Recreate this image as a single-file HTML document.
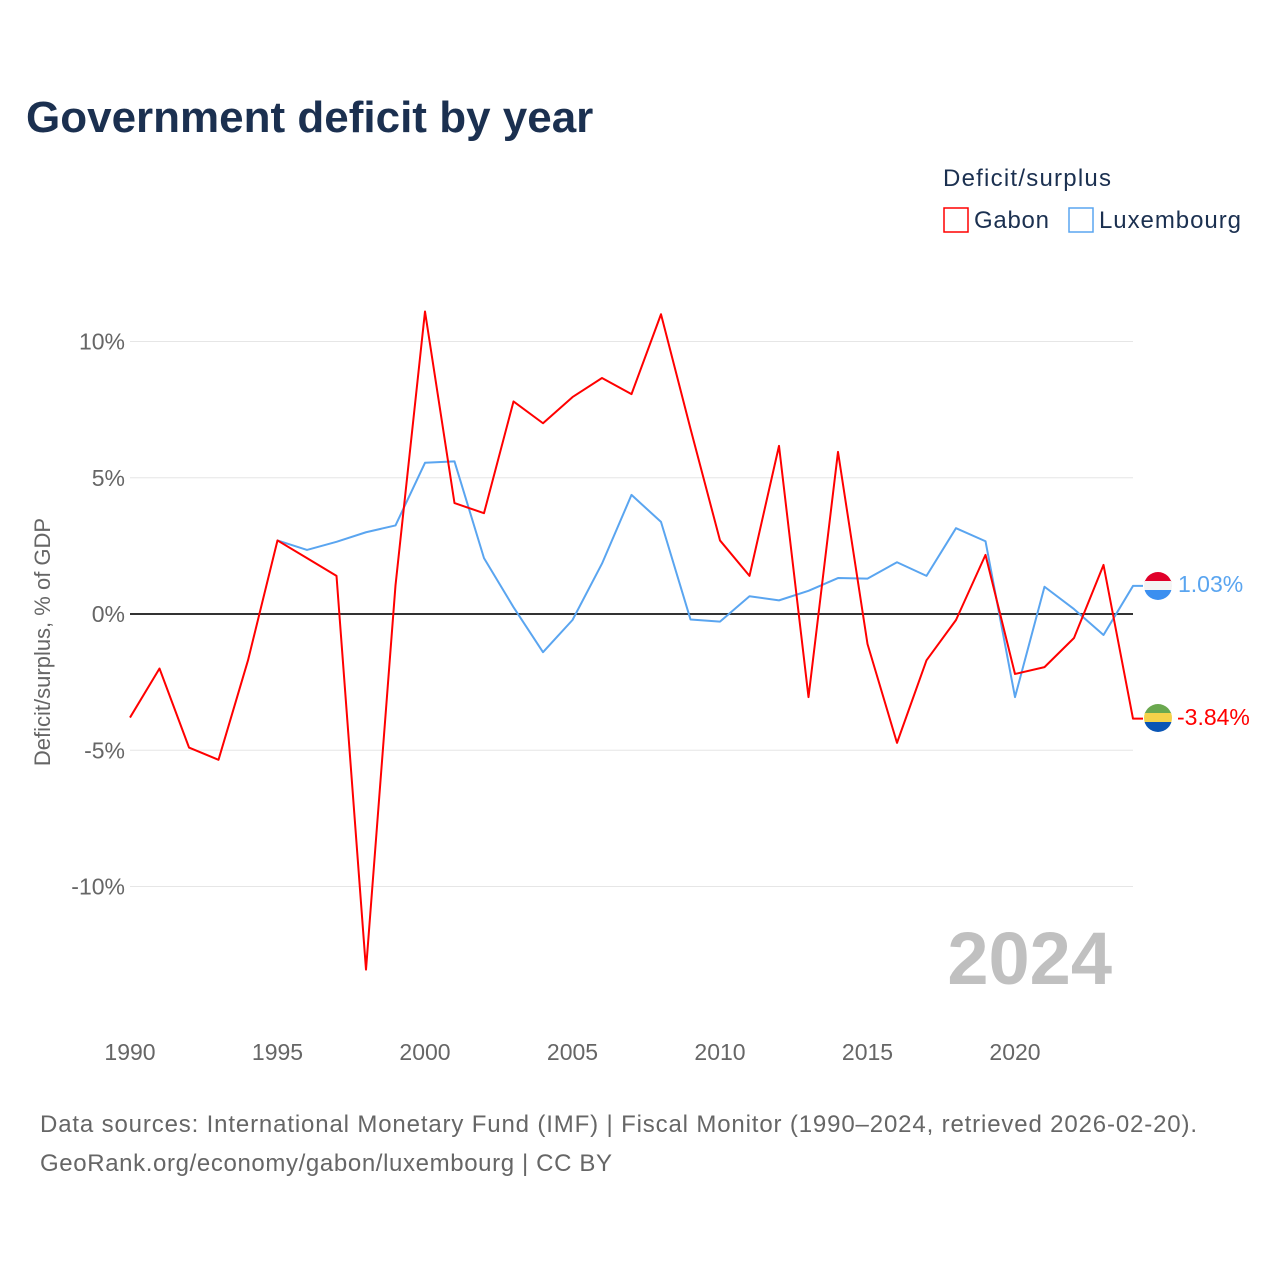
<!DOCTYPE html>
<html><head><meta charset="utf-8"><style>
body{margin:0;background:#fff;font-family:"Liberation Sans",sans-serif}
svg{display:block}
</style></head><body>
<svg width="1280" height="1280" xmlns="http://www.w3.org/2000/svg" id="chart">
<text x="26" y="132" font-size="44" font-weight="bold" fill="#1b3050">Government deficit by year</text>
<text x="943" y="186" font-size="24" fill="#1b3050" textLength="168">Deficit/surplus</text>
<g><rect x="944" y="208" width="24" height="24" fill="none" stroke="#ff0000" stroke-width="1.5"/><text x="974" y="228" font-size="24" fill="#1b3050" textLength="75">Gabon</text></g>
<g><rect x="1069" y="208" width="24" height="24" fill="none" stroke="#5aa5f0" stroke-width="1.5"/><text x="1099" y="228" font-size="24" fill="#1b3050" textLength="142">Luxembourg</text></g>
<text transform="translate(50,642) rotate(-90)" text-anchor="middle" font-size="22" fill="#666">Deficit/surplus, % of GDP</text>
<g id="grid"></g><g id="lines"></g>
<text x="1112" y="984" text-anchor="end" font-size="74" font-weight="bold" fill="#c0c0c0">2024</text>
<text x="40" y="1132" font-size="24" fill="#666" textLength="1157">Data sources: International Monetary Fund (IMF) | Fiscal Monitor (1990–2024, retrieved 2026-02-20).</text>
<text x="40" y="1171" font-size="24" fill="#666" textLength="572">GeoRank.org/economy/gabon/luxembourg | CC BY</text>
<defs>
<clipPath id="c1"><circle cx="1158" cy="586" r="14"/></clipPath>
<clipPath id="c2"><circle cx="1158" cy="718" r="14"/></clipPath>
</defs>
<g clip-path="url(#c1)"><rect x="1144" y="572" width="28" height="10" fill="#e0002a"/><rect x="1144" y="581" width="28" height="10" fill="#f4f4f4"/><rect x="1144" y="590" width="28" height="10" fill="#3b8ff0"/></g>
<g clip-path="url(#c2)"><rect x="1144" y="704" width="28" height="10" fill="#6aa84f"/><rect x="1144" y="713" width="28" height="10" fill="#f4d24a"/><rect x="1144" y="722" width="28" height="10" fill="#0a55b5"/></g>
<text x="1178" y="592" font-size="23" fill="#5aa5f0">1.03%</text>
<text x="1177" y="725" font-size="23" fill="#ff0000">-3.84%</text>
</svg>
<script>
const years=[];for(let y=1990;y<=2024;y++)years.push(y);
const gabon=[-3.8,-2.0,-4.9,-5.35,-1.7,2.7,2.05,1.4,-13.05,1.05,11.1,4.07,3.7,7.8,7.0,7.96,8.66,8.07,11.0,6.8,2.7,1.4,6.17,-3.05,5.95,-1.1,-4.73,-1.7,-0.22,2.17,-2.2,-1.95,-0.88,1.8,-3.84];
const luxYears=years.slice(5);
const lux=[2.7,2.35,2.65,3.0,3.25,5.55,5.6,2.05,0.25,-1.4,-0.22,1.85,4.37,3.38,-0.2,-0.28,0.65,0.5,0.85,1.32,1.3,1.9,1.4,3.15,2.67,-3.05,1.0,0.18,-0.77,1.03];
const yTicks=[10,5,0,-5,-10];
const xTicks=[1990,1995,2000,2005,2010,2015,2020];
const X=y=>130+(y-1990)*29.5, Y=v=>614-v*27.25;
const NS="http://www.w3.org/2000/svg";
const grid=document.getElementById('grid'),lines=document.getElementById('lines');
function mk(tag,attrs,parent){const e=document.createElementNS(NS,tag);for(const k in attrs)e.setAttribute(k,attrs[k]);parent.appendChild(e);return e;}
yTicks.forEach(t=>{
 const l=mk('line',{x1:130,x2:1133,y1:Y(t),y2:Y(t),stroke:t===0?'#333':'#e6e6e6','stroke-width':t===0?2:1},grid);
 
 
 const tx=mk('text',{x:125,y:Y(t)+8,'text-anchor':'end','font-size':23,fill:'#666'},grid);tx.textContent=t+'%';
 
 
});
xTicks.forEach(t=>{
 const tx=mk('text',{x:X(t),y:1060,'text-anchor':'middle','font-size':23,fill:'#666'},grid);tx.textContent=t;
 
 
});
function line(xs,vs,color,name){
 let d=xs.map((y,i)=>(i?'L':'M')+X(y)+','+Y(vs[i])).join(' ');
 d+=' L'+(X(xs[xs.length-1])+10)+','+Y(vs[vs.length-1]);
 const p=mk('path',{d,fill:'none',stroke:color,'stroke-width':2,'stroke-linejoin':'round'},lines);
 
 
}
line(luxYears,lux,'#5aa5f0','luxembourg-line');
line(years,gabon,'#ff0000','gabon-line');
</script>
</body></html>
